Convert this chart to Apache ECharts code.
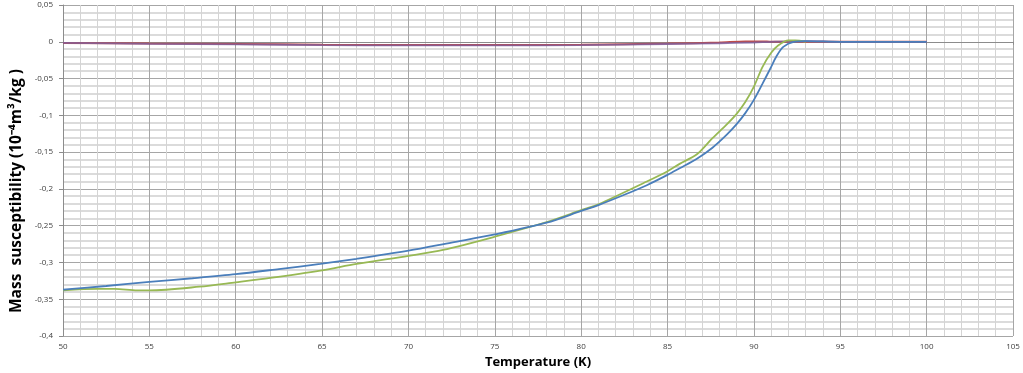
<!DOCTYPE html>
<html>
<head>
<meta charset="utf-8">
<script src="https://cdn.jsdelivr.net/npm/echarts@6/dist/echarts.min.js"></script>
<style>
html,body{margin:0;padding:0;background:#fff;}
#chart{width:1023px;height:373px;}
</style>
</head>
<body>
<div id="chart"></div>
<script>
// 温度 (K) / 磁化率 数据
var blueData = [
    [50,-0.337],[52.5,-0.332],[55,-0.3265],[57.5,-0.3215],[60,-0.316],[62.5,-0.309],[64.9,-0.302],
    [67,-0.295],[70,-0.284],[72.5,-0.273],[75,-0.262],[78,-0.246],[80,-0.230],[81,-0.222],
    [82.5,-0.208],[83.8,-0.195],[85,-0.181],[85.7,-0.172],[86.7,-0.159],[87.6,-0.144],[88.4,-0.127],
    [89,-0.112],[89.5,-0.097],[90,-0.079],[90.5,-0.057],[91,-0.034],[91.3,-0.020],
    [91.7,-0.007],[92.3,0],[93,0.001],[95,0],[100,0]
];
var greenData = [
    [50,-0.338],[52,-0.336],[53,-0.336],[54.3,-0.338],[55,-0.338],[57.9,-0.333],[60,-0.327],
    [62,-0.321],[64.9,-0.311],[67,-0.302],[70,-0.291],[72,-0.283],[75,-0.265],[78,-0.245],
    [80,-0.229],[81,-0.221],[83.8,-0.190],[85,-0.176],[85.7,-0.166],[86.7,-0.153],[87.6,-0.131],
    [88.4,-0.113],[89,-0.098],[89.5,-0.082],[90,-0.061],[90.5,-0.034],[91,-0.015],[91.4,-0.005],
    [92,0.002],[92.4,0.002],[93,0]
];
var redData = [
    [50,-0.0015],[55,-0.0025],[60,-0.003],[65,-0.004],[70,-0.0045],[75,-0.0045],[80,-0.004],
    [85,-0.0025],[88,-0.001],[89.5,0.0005],[90.5,0.0005],[91,0],[95,0],[100,0]
];
var purpleData = [
    [50,-0.0015],[55,-0.0028],[60,-0.0035],[65,-0.0045],[70,-0.005],[75,-0.005],[80,-0.0045],
    [85,-0.003],[88,-0.002],[90,-0.001],[91,0],[93,0.001],[95,0],[100,0]
];
var xTicks = {min: 50, max: 105, interval: 5};
var yTicks = {min: -0.4, max: 0.05, interval: 0.05};

var chart = echarts.init(document.getElementById('chart'));

var option = {
    animation: false,
    grid: {
        left: 63,
        right: 10,
        top: 5,
        bottom: 37,
        outerBoundsMode: 'none'
    },
    graphic: [{
        type: 'text',
        x: 17,
        y: 191,
        rotation: Math.PI / 2,
        style: {
            text: 'Mass  susceptibility (10\u207B\u2074m\u00B3/kg )',
            fontFamily: 'Open Sans',
            fontWeight: 'bold',
            fontSize: 15.5,
            fill: '#000',
            align: 'center',
            verticalAlign: 'middle'
        }
    }],
    xAxis: {
        type: 'value',
        min: xTicks.min,
        max: xTicks.max,
        interval: xTicks.interval,
        name: 'Temperature (K)',
        nameLocation: 'middle',
        nameGap: 20,
        nameTextStyle: {
            fontFamily: 'Open Sans',
            fontWeight: 'bold',
            fontSize: 13,
            color: '#000'
        },
        axisLine: {lineStyle: {color: '#8c8c8c'}},
        axisTick: {show: true, length: 3, lineStyle: {color: '#8c8c8c'}},
        axisLabel: {
            fontFamily: 'Open Sans',
            fontSize: 8,
            color: '#404040',
            margin: 7
        },
        splitLine: {show: true, lineStyle: {color: '#a6a6a6', width: 1}},
        minorTick: {show: false, splitNumber: 5},
        minorSplitLine: {show: true, lineStyle: {color: '#d4d4d4', width: 1}}
    },
    yAxis: {
        type: 'value',
        min: yTicks.min,
        max: yTicks.max,
        interval: yTicks.interval,
        axisLine: {show: true, lineStyle: {color: '#8c8c8c'}},
        axisTick: {show: true, length: 4, lineStyle: {color: '#8c8c8c'}},
        axisLabel: {
            fontFamily: 'Open Sans',
            fontSize: 8,
            color: '#404040',
            margin: 10,
            formatter: function (v) {
                return String(+v.toFixed(2)).replace('.', ',');
            }
        },
        splitLine: {show: true, lineStyle: {color: '#a6a6a6', width: 1}},
        minorTick: {show: false, splitNumber: 5},
        minorSplitLine: {show: true, lineStyle: {color: '#d0d0d0', width: 1.5}}
    },
    series: [
        {
            name: 'red',
            type: 'line',
            data: redData,
            showSymbol: false,
            smooth: 0.3,
            lineStyle: {color: '#be4b48', width: 2}
        },
        {
            name: 'purple',
            type: 'line',
            data: purpleData,
            showSymbol: false,
            smooth: 0.3,
            lineStyle: {color: '#7d60a0', width: 1.8, opacity: 0.8}
        },
        {
            name: 'green',
            type: 'line',
            data: greenData,
            showSymbol: false,
            smooth: 0.3,
            lineStyle: {color: '#98b954', width: 1.8}
        },
        {
            name: 'blue',
            type: 'line',
            data: blueData,
            showSymbol: false,
            smooth: 0.3,
            lineStyle: {color: '#4a7ebb', width: 1.8}
        }
    ]
};

chart.setOption(option);

window.onresize = function () {
    chart.resize();
};
</script>
</body>
</html>
